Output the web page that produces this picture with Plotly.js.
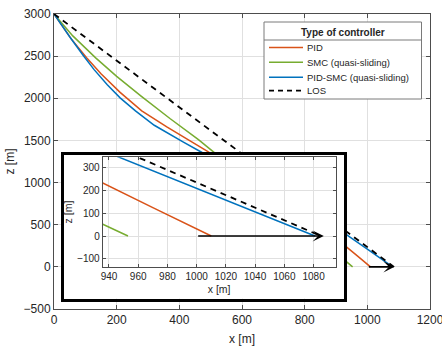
<!DOCTYPE html>
<html><head><meta charset="utf-8">
<script src="https://cdn.plot.ly/plotly-3.0.1.min.js"></script>
<style>html,body{margin:0;padding:0;background:#fff;}#chart{width:442px;height:348px;}</style>
</head><body><div id="chart"></div>
<script>
// ---- data ----
const seriesNames = ['PID', 'SMC (quasi-sliding)', 'PID-SMC (quasi-sliding)', 'LOS'];
const legendTitle = 'Type of controller';

const pidX = [0, 25, 55, 104, 150, 211, 280, 360, 445, 490, 600, 750, 880, 932, 970, 1010];
const pidZ = [3000, 2860, 2705, 2480, 2290, 2070, 1850, 1660, 1475, 1370, 1100, 750, 400, 245, 125, 0];

const smcX = [0, 25, 60, 133, 200, 280, 370, 461, 500, 700, 932, 953];
const smcZ = [3000, 2890, 2740, 2480, 2260, 2020, 1760, 1510, 1390, 790, 63, 0];

const pidsmcX = [0, 25, 50, 94, 128, 170, 211, 260, 320, 413, 471, 600, 750, 850, 932, 1000, 1081];
const pidsmcZ = [3000, 2860, 2730, 2505, 2340, 2160, 2005, 1850, 1680, 1480, 1360, 1060, 760, 580, 385, 210, 0];

const losX = [0, 1085];
const losZ = [3000, 0];

const arrowTail = [1000, 0];
const arrowTip = [1087, 0];

const mainXTicks = [0, 200, 400, 600, 800, 1000, 1200];
const mainYTicks = [-500, 0, 500, 1000, 1500, 2000, 2500, 3000];
const insetXTicks = [940, 960, 980, 1000, 1020, 1040, 1060, 1080];
const insetYTicks = [-100, 0, 100, 200, 300];

// ---- styles ----
const FONT = 'Liberation Sans, Arial, Helvetica, sans-serif';
const TXT = '#262626';
const colors = ['#D95319', '#77AC30', '#0072BD', '#000000'];
const dashes = ['solid', 'solid', 'solid', '6px,5px'];
const xs = [pidX, smcX, pidsmcX, losX];
const zs = [pidZ, smcZ, pidsmcZ, losZ];

const traces = [];
// dummy trace so the inset frame subplot (x2/y2) exists
traces.push({x: [], y: [], xaxis: 'x2', yaxis: 'y2', type: 'scatter', mode: 'lines', showlegend: false, hoverinfo: 'skip'});
for (let i = 0; i < 4; i++) {
  traces.push({x: xs[i], y: zs[i], name: seriesNames[i], type: 'scatter', mode: 'lines',
    line: {color: colors[i], width: i === 3 ? 1.8 : 1.5, dash: dashes[i]}, xaxis: 'x', yaxis: 'y', showlegend: false, cliponaxis: true});
}
for (let i = 0; i < 4; i++) {
  traces.push({x: xs[i], y: zs[i], name: seriesNames[i], type: 'scatter', mode: 'lines',
    line: {color: colors[i], width: i === 3 ? 1.8 : 1.5, dash: dashes[i]}, xaxis: 'x3', yaxis: 'y3', showlegend: false});
}

const axCommon = {
  showline: true, mirror: 'ticks', ticks: 'inside', linecolor: '#4d4d4d', linewidth: 1,
  tickcolor: '#4d4d4d', gridcolor: '#e0e0e0', gridwidth: 1, zeroline: false,
  tickfont: {family: FONT, size: 12, color: TXT}, showgrid: true, ticklabeloverflow: 'allow'
};

const W = 442, H = 348;
const L = 54, R = 12, T = 14, B = 39;
const pw = W - L - R, ph = H - T - B;
const px2x = p => (p - L) / pw;
const py2y = p => (H - B - p) / ph;

const layout = {
  width: W, height: H,
  margin: {l: L, r: R, t: T, b: B, pad: 0},
  paper_bgcolor: '#fff', plot_bgcolor: '#fff',
  font: {family: FONT, color: TXT},
  showlegend: false,
  xaxis: Object.assign({}, axCommon, {domain: [0, 1], range: [0, 1200], tickvals: mainXTicks, ticklen: 4,
    title: {text: 'x [m]', font: {family: FONT, size: 12, color: TXT}, standoff: 8}, anchor: 'y'}),
  yaxis: Object.assign({}, axCommon, {domain: [0, 1], range: [-500, 3000], tickvals: mainYTicks, ticklen: 4,
    title: {text: 'z [m]', font: {family: FONT, size: 12, color: TXT}, standoff: 6}, anchor: 'x'}),
  // inset frame
  xaxis2: {domain: [px2x(64), px2x(344)], range: [0, 1], anchor: 'y2', showgrid: false, zeroline: false,
    showticklabels: false, ticks: '', showline: true, mirror: true, linewidth: 3, linecolor: '#000', fixedrange: true},
  yaxis2: {domain: [py2y(298.5), py2y(155)], range: [0, 1], anchor: 'x2', showgrid: false, zeroline: false,
    showticklabels: false, ticks: '', showline: true, mirror: true, linewidth: 3, linecolor: '#000', fixedrange: true},
  // inset axes
  xaxis3: Object.assign({}, axCommon, {domain: [px2x(102.7), px2x(335.5)], range: [935.7, 1095], tickvals: insetXTicks,
    ticklen: 3, anchor: 'y3', tickfont: {family: FONT, size: 10, color: TXT},
    title: {text: 'x [m]', font: {family: FONT, size: 10.5, color: TXT}, standoff: 4}}),
  yaxis3: Object.assign({}, axCommon, {domain: [py2y(266.7), py2y(157.3)], range: [-135, 346], tickvals: insetYTicks,
    ticklen: 3, anchor: 'x3', tickfont: {family: FONT, size: 10, color: TXT},
    title: {text: 'z [m]', font: {family: FONT, size: 10.5, color: TXT}, standoff: 2}}),
  shapes: [
    {type: 'rect', xref: 'x2', yref: 'y2', x0: 0, x1: 1, y0: 0, y1: 1, fillcolor: '#fff', line: {width: 0}, layer: 'below'}
  ],
  annotations: [
    {xref: 'x', yref: 'y', axref: 'x', ayref: 'y', x: arrowTip[0], y: arrowTip[1], ax: arrowTail[0], ay: arrowTail[1],
      text: '', showarrow: true, arrowhead: 3, arrowsize: 1.1, arrowwidth: 1.7, arrowcolor: '#000', standoff: 0},
    {xref: 'x3', yref: 'y3', axref: 'x3', ayref: 'y3', x: arrowTip[0], y: arrowTip[1], ax: arrowTail[0], ay: arrowTail[1],
      text: '', showarrow: true, arrowhead: 3, arrowsize: 1.1, arrowwidth: 1.7, arrowcolor: '#000', standoff: 0}
  ]
};

// ---- manual MATLAB-style legend ----
const lgL = px2x(264), lgR = px2x(421.5), lgT = py2y(22), lgB = py2y(99);
layout.shapes.push({type: 'rect', xref: 'paper', yref: 'paper', x0: lgL, x1: lgR, y0: lgB, y1: lgT,
  fillcolor: '#fff', line: {color: '#7a7a7a', width: 1}, layer: 'above'});
layout.shapes.push({type: 'line', xref: 'paper', yref: 'paper', x0: lgL, x1: lgR, y0: py2y(40), y1: py2y(40),
  line: {color: '#7a7a7a', width: 1}, layer: 'above'});
layout.annotations.push({xref: 'paper', yref: 'paper', x: (lgL + lgR) / 2, y: py2y(32), text: '<b>' + legendTitle + '</b>',
  showarrow: false, xanchor: 'center', yanchor: 'middle', font: {family: FONT, size: 10, color: TXT}});
const itemY = [47.5, 62.3, 77.3, 90.7];
for (let i = 0; i < 4; i++) {
  layout.shapes.push({type: 'line', xref: 'paper', yref: 'paper', x0: px2x(269), x1: px2x(303), y0: py2y(itemY[i]), y1: py2y(itemY[i]),
    line: {color: colors[i], width: i === 3 ? 1.8 : 1.5, dash: i === 3 ? '5px,4px' : 'solid'}, layer: 'above'});
  layout.annotations.push({xref: 'paper', yref: 'paper', x: px2x(305), y: py2y(itemY[i]), text: seriesNames[i],
    showarrow: false, xanchor: 'left', yanchor: 'middle', font: {family: FONT, size: 9.5, color: TXT}});
}

Plotly.newPlot('chart', traces, layout, {staticPlot: true, displayModeBar: false});
</script>
</body></html>
